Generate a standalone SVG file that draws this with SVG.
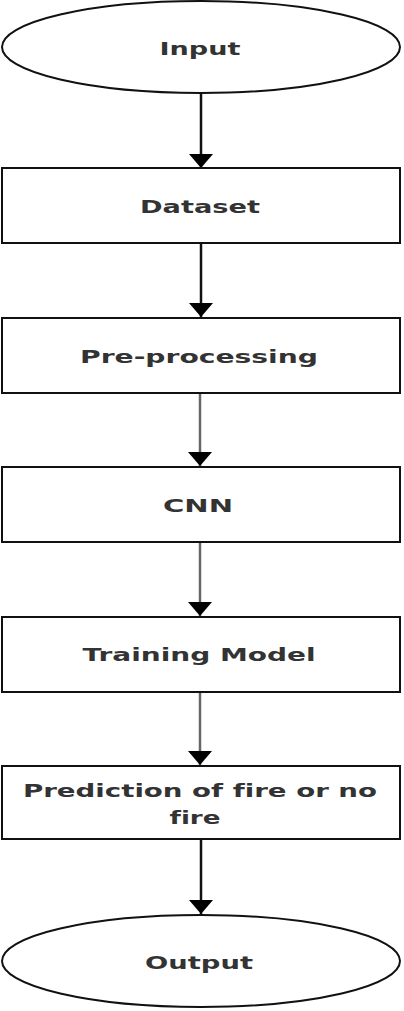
<svg xmlns="http://www.w3.org/2000/svg" width="404" height="1011" viewBox="0 0 404 1011">
<style>
.box{fill:#fff;stroke:#111;stroke-width:2}
.t{font-family:"DejaVu Sans",sans-serif;font-weight:bold;font-size:18px;fill:#333;text-anchor:middle;font-variant-ligatures:none}
.c{stroke:#111;stroke-width:2.5;fill:none}
.g{stroke:#666}
</style>
<defs>
<marker id="ah" markerUnits="userSpaceOnUse" markerWidth="14" markerHeight="26" refX="14" refY="13" orient="auto">
<path d="M0,1 L14,13 L0,25 Z" fill="#000"/>
</marker>
</defs>
<rect width="404" height="1011" fill="#fff"/>
<g id="connectors">
<line class="c" x1="201" y1="94" x2="201" y2="168" marker-end="url(#ah)"/>
<line class="c" x1="201" y1="244" x2="201" y2="317" marker-end="url(#ah)"/>
<line class="c g" x1="200" y1="393" x2="200" y2="466" marker-end="url(#ah)"/>
<line class="c g" x1="200" y1="543" x2="200" y2="616" marker-end="url(#ah)"/>
<line class="c g" x1="200" y1="693" x2="200" y2="765" marker-end="url(#ah)"/>
<line class="c" x1="201" y1="840" x2="201" y2="914" marker-end="url(#ah)"/>
</g>
<g id="input">
<ellipse class="box" cx="201" cy="47" rx="199" ry="46"/>
<text class="t" x="200" y="55" textLength="81" lengthAdjust="spacingAndGlyphs">Input</text>
</g>
<g id="dataset">
<rect class="box" x="2" y="168" width="398" height="75"/>
<text class="t" x="200" y="213" textLength="120" lengthAdjust="spacingAndGlyphs">Dataset</text>
</g>
<g id="preprocessing">
<rect class="box" x="2" y="318" width="398" height="75"/>
<text class="t" x="199" y="363" textLength="238" lengthAdjust="spacingAndGlyphs">Pre-processing</text>
</g>
<g id="cnn">
<rect class="box" x="2" y="467" width="398" height="75"/>
<text class="t" x="198" y="512" textLength="70" lengthAdjust="spacingAndGlyphs">CNN</text>
</g>
<g id="training">
<rect class="box" x="2" y="617" width="398" height="75"/>
<text class="t" x="199" y="661" textLength="233" lengthAdjust="spacingAndGlyphs">Training Model</text>
</g>
<g id="prediction">
<rect class="box" x="2" y="766" width="398" height="73"/>
<text class="t" x="200" y="797" textLength="354" lengthAdjust="spacingAndGlyphs">Prediction of fire or no</text>
<text class="t" x="195" y="824" textLength="51" lengthAdjust="spacingAndGlyphs">fire</text>
</g>
<g id="output">
<ellipse class="box" cx="201" cy="961" rx="199" ry="46"/>
<text class="t" x="199" y="969" textLength="108" lengthAdjust="spacingAndGlyphs">Output</text>
</g>
</svg>
